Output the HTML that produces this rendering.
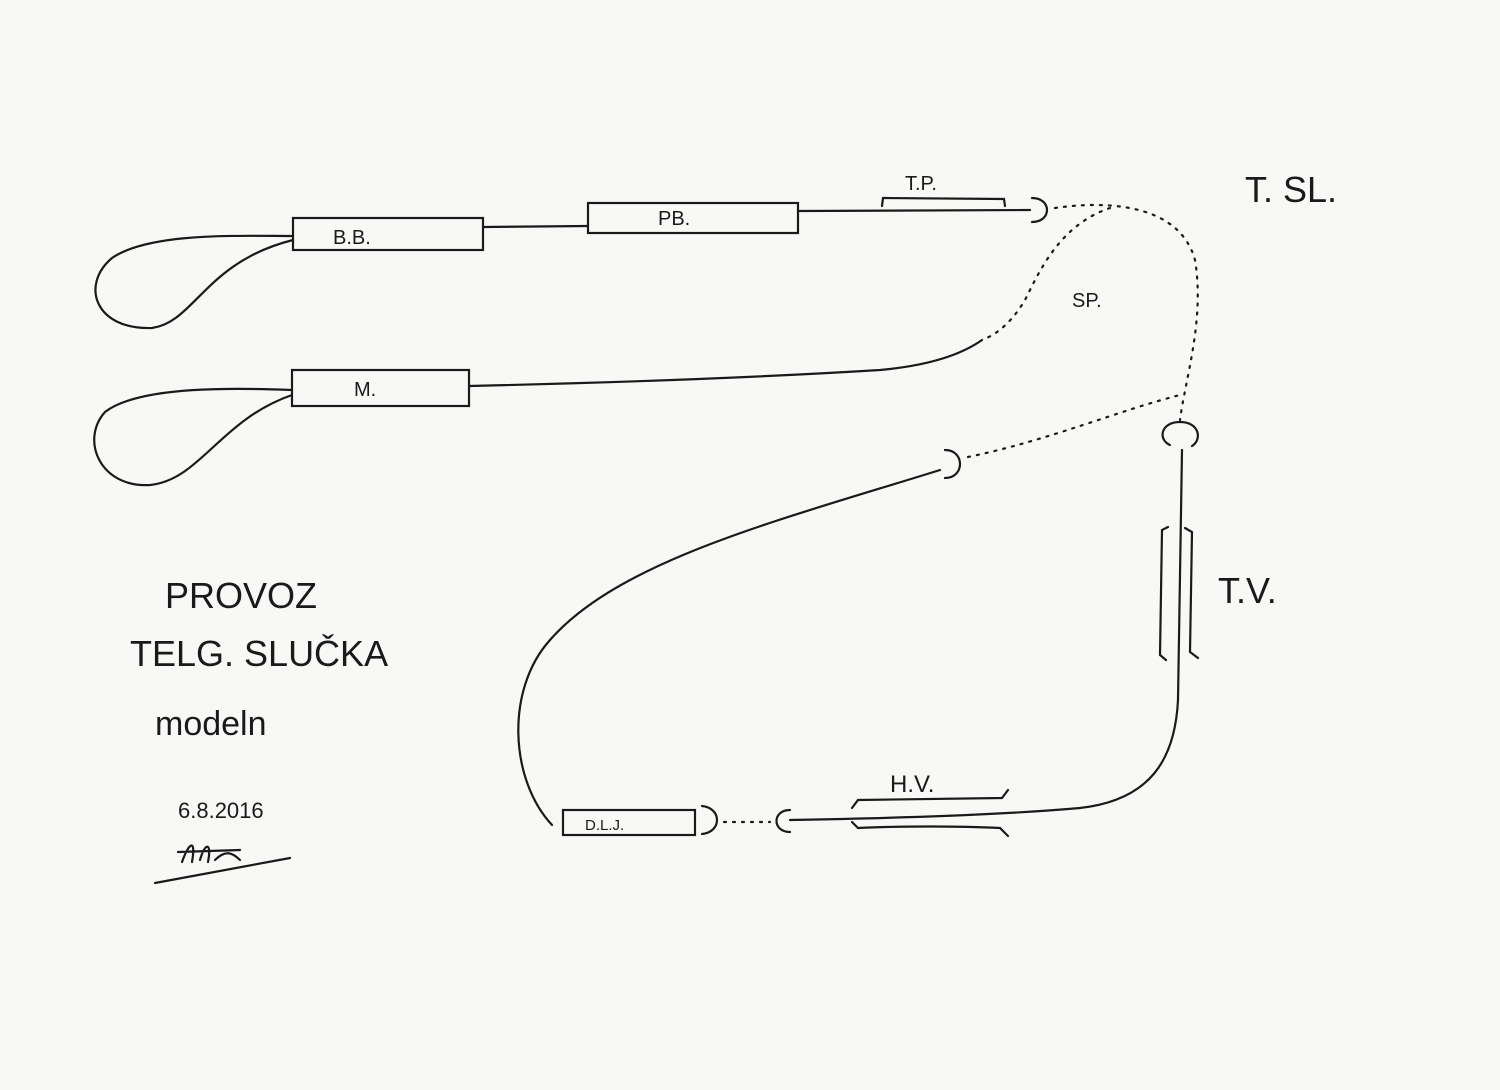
<!DOCTYPE html>
<html><head><meta charset="utf-8"><style>
html,body{margin:0;padding:0;background:#f8f8f6;}
svg{display:block}
text{font-family:"Liberation Sans",sans-serif;fill:#1a1a1a}
</style></head><body>
<svg width="1500" height="1090" viewBox="0 0 1500 1090" xmlns="http://www.w3.org/2000/svg">
<rect width="1500" height="1090" fill="#f8f8f6"/>
<g fill="none" stroke="#1a1a1a" stroke-width="2.2" stroke-linecap="round">
<!-- loop 1 -->
<path d="M293,236 C240,236 150,232 112,258 C80,285 95,330 152,328 C195,322 205,262 293,240"/>
<rect x="293" y="218" width="190" height="32"/>
<line x1="483" y1="227" x2="588" y2="226"/>
<rect x="588" y="203" width="210" height="30"/>
<line x1="798" y1="211" x2="1030" y2="210"/>
<path d="M882,206 L883,198 L1004,199 L1005,206"/>
<path d="M1032,198 C1052,198 1052,222 1032,222"/>
<!-- dotted -->
<path stroke-dasharray="2,7" d="M1055,208 C1110,200 1180,205 1195,260 C1205,320 1185,380 1180,420"/>
<path stroke-dasharray="2,7" d="M1110,208 C1060,225 1040,270 1025,300 C1010,325 995,335 982,340"/>
<path stroke-dasharray="2,7" d="M968,457 C1050,440 1120,410 1180,395"/>
<!-- M line -->
<path d="M469,386 C600,383 750,378 880,370 C935,365 965,352 982,340"/>
<rect x="292" y="370" width="177" height="36"/>
<path d="M292,390 C240,388 140,385 105,412 C80,440 100,488 150,485 C200,480 220,420 292,395"/>
<!-- hook and big curve -->
<path d="M945,450 C965,450 965,478 945,478"/>
<path d="M940,470 C780,520 620,560 550,640 C505,690 510,780 552,825"/>
<rect x="563" y="810" width="132" height="25"/>
<path d="M702,806 C722,808 722,832 702,834"/>
<path stroke-dasharray="2,7" d="M724,822 L770,822"/>
<path d="M790,810 C772,810 772,832 790,832"/>
<path d="M790,820 C900,818 1000,815 1080,808 C1150,800 1175,760 1178,700 L1182,450"/>
<!-- TV hook -->
<path d="M1170,445 C1158,440 1160,422 1180,422 C1200,422 1202,440 1192,446"/>
<!-- TV brackets -->
<path d="M1168,527 L1162,530 L1160,655 L1166,660"/>
<path d="M1185,528 L1192,532 L1190,652 L1198,658"/>
<!-- HV brackets -->
<path d="M852,808 L858,800 L1002,798 L1008,790"/>
<path d="M852,822 L858,828 C900,826 960,826 1000,828 L1008,836"/>
<!-- signature -->
<path d="M155,883 L290,858"/>
<path d="M182,862 C190,840 196,840 192,862 M200,860 C205,842 212,842 208,862 M178,852 L240,850 M215,860 C225,850 232,852 240,860"/>
</g>
<g font-size="20">
<text x="333" y="244">B.B.</text>
<text x="658" y="225">PB.</text>
<text x="905" y="190">T.P.</text>
<text x="354" y="396">M.</text>
<text x="1072" y="307">SP.</text>
<text x="585" y="830" font-size="15">D.L.J.</text>
</g>
<text x="890" y="792" font-size="24">H.V.</text>
<text x="1245" y="202" font-size="36">T. SL.</text>
<text x="1218" y="603" font-size="36">T.V.</text>
<text x="165" y="608" font-size="36">PROVOZ</text>
<text x="130" y="666" font-size="36">TELG. SLUČKA</text>
<text x="155" y="735" font-size="34">modeln</text>
<text x="178" y="818" font-size="22">6.8.2016</text>
</svg>
</body></html>
